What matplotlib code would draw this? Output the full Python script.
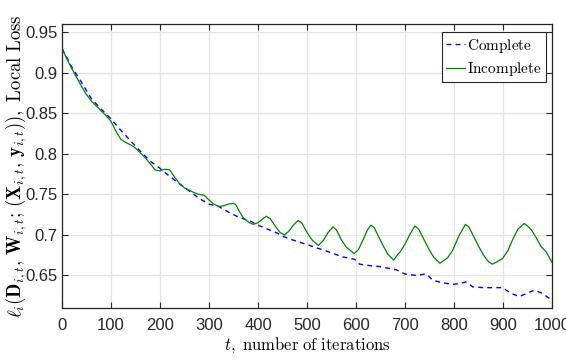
import matplotlib
matplotlib.use("Agg")
import matplotlib.pyplot as plt

complete_x = [0, 20, 40, 60, 80, 100, 120, 140, 160, 180, 200, 220, 240, 260, 280, 300,
              320, 340, 360, 385, 400, 420, 440, 452, 470, 490, 501, 520, 545, 572, 597,
              607, 630, 648, 665, 682, 699, 723, 743, 757, 777, 797, 810, 824, 838, 860,
              885, 899, 916, 933, 948, 964, 980, 998]
complete_y = [0.930, 0.907, 0.888, 0.868, 0.855, 0.843, 0.829, 0.816, 0.803, 0.791, 0.782,
              0.772, 0.763, 0.754, 0.745, 0.738, 0.735, 0.728, 0.722, 0.717, 0.712, 0.707,
              0.702, 0.698, 0.694, 0.690, 0.688, 0.684, 0.679, 0.673, 0.670, 0.664, 0.662,
              0.661, 0.659, 0.657, 0.652, 0.650, 0.652, 0.644, 0.641, 0.639, 0.640, 0.642,
              0.636, 0.635, 0.635, 0.635, 0.628, 0.624, 0.628, 0.632, 0.628, 0.620]

incomplete_x = [0, 10, 20, 30, 40, 50, 60, 70, 80, 90, 100, 110, 120, 130, 140, 150, 160,
                170, 180, 190, 200, 210, 220, 230, 240, 250, 260, 270, 280, 290, 300, 310,
                320, 330, 340, 350, 355, 360, 370, 380, 390, 400, 410, 417, 425, 435, 445,
                454, 462, 472, 482, 490, 500, 510, 523, 533, 543, 553, 560, 570, 580, 590,
                596, 605, 615, 623, 630, 637, 645, 655, 665, 677, 685, 690, 700, 710, 720,
                728, 738, 748, 758, 771, 780, 787, 797, 810, 823, 830, 840, 850, 860, 870,
                878, 888, 899, 910, 920, 930, 943, 950, 958, 968, 977, 988, 1000]
incomplete_y = [0.930, 0.917, 0.905, 0.894, 0.883, 0.873, 0.865, 0.859, 0.853, 0.847, 0.840,
                0.828, 0.818, 0.814, 0.811, 0.807, 0.801, 0.795, 0.788, 0.780, 0.779, 0.781,
                0.780, 0.771, 0.763, 0.758, 0.755, 0.752, 0.750, 0.749, 0.743, 0.738, 0.735,
                0.736, 0.738, 0.739, 0.737, 0.731, 0.721, 0.716, 0.713, 0.715, 0.720, 0.723,
                0.720, 0.711, 0.703, 0.700, 0.704, 0.712, 0.718, 0.714, 0.703, 0.694, 0.687,
                0.693, 0.703, 0.710, 0.706, 0.694, 0.685, 0.680, 0.677, 0.682, 0.695, 0.706,
                0.712, 0.709, 0.699, 0.687, 0.676, 0.669, 0.676, 0.679, 0.689, 0.701, 0.711,
                0.707, 0.695, 0.683, 0.673, 0.665, 0.669, 0.672, 0.681, 0.699, 0.713, 0.710,
                0.698, 0.686, 0.675, 0.667, 0.664, 0.667, 0.671, 0.681, 0.695, 0.707, 0.714,
                0.711, 0.706, 0.696, 0.686, 0.679, 0.666]

x_ticks = [0, 100, 200, 300, 400, 500, 600, 700, 800, 900, 1000]
y_ticks = [0.65, 0.7, 0.75, 0.8, 0.85, 0.9, 0.95]
y_ticklabels = ["0.65", "0.7", "0.75", "0.8", "0.85", "0.9", "0.95"]

plt.rcParams['mathtext.fontset'] = 'cm'
plt.rcParams['font.family'] = ['Liberation Sans', 'DejaVu Sans']

fig = plt.figure(figsize=(5.66, 3.64), dpi=100)
ax = fig.add_axes([0.1095, 0.154, 0.866, 0.78])

ax.plot(complete_x, complete_y, color=(0, 0, 1), linestyle=(0, (3.5, 3)), linewidth=1.0,
        label=r'$\mathrm{Complete}$')
ax.plot(incomplete_x, incomplete_y, color=(0, 0.5, 0), linestyle='-', linewidth=0.9,
        label=r'$\mathrm{Incomplete}$')

ax.set_xlim(0, 1000)
ax.set_ylim(0.61, 0.96)
ax.set_xticks(x_ticks)
ax.set_yticks(y_ticks)
ax.set_yticklabels(y_ticklabels)
ax.tick_params(direction='in', top=True, right=True, length=4, width=0.8,
               labelsize=12, colors='#262626')
ax.tick_params(axis='x', pad=7)
ax.tick_params(axis='y', pad=3)
ax.grid(True, color='#e3e3e3', linewidth=0.9)
ax.set_axisbelow(True)
for s in ax.spines.values():
    s.set_color('#262626')
    s.set_linewidth(0.9)

ax.set_xlabel(r'$t,$ $\mathrm{number\ of\ iterations}$', fontsize=12, labelpad=2)
ax.set_ylabel(r'$\ell_i(\mathbf{D}_{i,t},\, \mathbf{W}_{i,t};\, (\mathbf{X}_{i,t},\, \mathbf{y}_{i,t})),\ \mathrm{Local\ Loss}$',
              fontsize=13.5)
ax.yaxis.set_label_coords(-0.068, 0.5)

leg = ax.legend(loc='upper right', bbox_to_anchor=(0.988, 0.972), fontsize=11,
                handlelength=1.2, handletextpad=0.15, borderpad=0.3, labelspacing=0.35,
                fancybox=False, framealpha=1, edgecolor='#262626', borderaxespad=0)
leg.get_frame().set_linewidth(0.8)

fig.savefig('out.png', dpi=100)
